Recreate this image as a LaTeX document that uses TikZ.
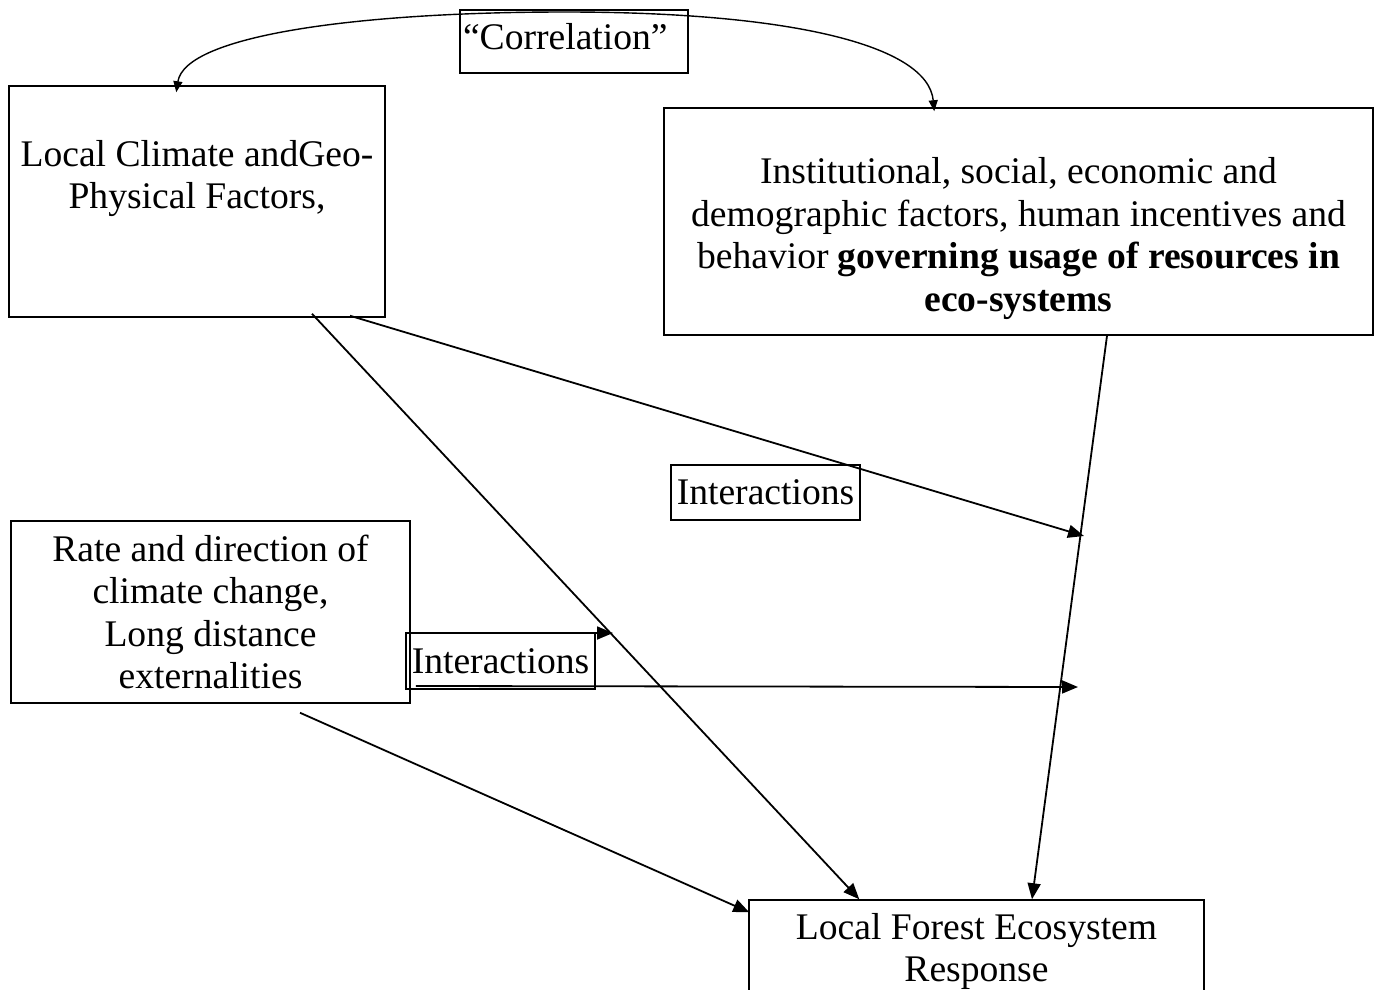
\documentclass[tikz,border=0pt]{standalone}
\usepackage{fontspec}
\setmainfont{Liberation Serif}
\usetikzlibrary{arrows.meta,positioning,calc}

\begin{document}
\begin{tikzpicture}[
  x=0.5pt,y=-0.5pt,
  every node/.style={font=\fontsize{18.8}{21.25}\selectfont},
  box/.style={draw,line width=0.75pt,align=center,inner sep=1.5pt},
  arrow/.style={-{Triangle[length=8pt,width=6.5pt]},line width=0.9pt},
  corrline/.style={{Triangle[length=5.5pt,width=4.5pt]}-{Triangle[length=5.5pt,width=4.5pt]},line width=0.7pt}
]
\useasboundingbox (0,0) rectangle (1377,990);
\node[box,minimum width=188pt,minimum height=115.5pt] (clim) at (197,201.5) {Local Climate andGeo-\\Physical Factors,\rule[-27pt]{0pt}{0pt}};
\node[box,minimum width=354.5pt,minimum height=113.5pt] (inst) at (1018.5,221.5) {\rule{0pt}{30pt}Institutional, social, economic and\\demographic factors, human incentives and\\behavior \textbf{governing usage of resources in}\\\textbf{eco-systems}};
\node[box,minimum width=114pt,minimum height=31.5pt,text width=111pt,align=left] (corr) at (574,41.5) {``Correlation''\rule[-4.7pt]{0pt}{0pt}};
\node[box,minimum width=94.5pt,minimum height=27.5pt] (inter1) at (765.5,492.5) {Interactions};
\node[box,minimum width=199.5pt,minimum height=91pt] (rate) at (210.5,612) {Rate and direction of\\climate change,\\Long distance\\externalities};
\node[box,minimum width=94.5pt,minimum height=28pt] (inter2) at (500.5,661) {Interactions};
\node[box,minimum width=227.5pt,minimum height=51.65pt] (forest) at (976.5,951.65) {Local Forest Ecosystem\\Response};
% points where the interaction arrows end
\coordinate (meet1) at (1084,536);
\coordinate (meet2) at (613,633);
\coordinate (meet3) at (1078,687);
\draw[corrline] ($(clim.north west)+(168,7)$) .. controls (185,35) and (360,12) .. (565,12) .. controls (790,12) and (928,45) .. ($(inst.north west)+(271,4)$);
\draw[arrow] ($(clim.south)+(115,-4)$) -- ($(forest.north west)+(111,0)$);
\draw[arrow] ($(clim.south)+(153,-2)$) -- (meet1);
\draw[arrow] ($(inst.south)+(88.5,0)$) -- ($(forest.north)+(55.5,0)$);
\draw[arrow] ($(rate.east)+(5,21)$) -- (meet2);
\draw[arrow] ($(rate.east)+(5,74)$) -- (meet3);
\draw[arrow] ($(rate.south)+(89.5,9)$) -- ($(forest.north west)+(1,13)$);
\end{tikzpicture}
\end{document}
